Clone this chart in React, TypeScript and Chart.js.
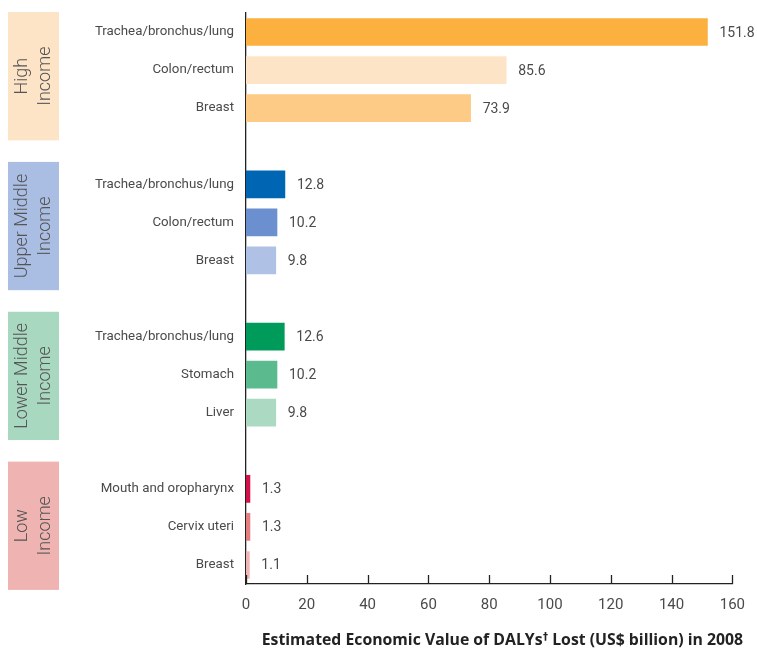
import React, { useEffect, useRef } from "react";
import { Chart, registerables } from "chart.js";
Chart.register(...registerables);

const categories = [
  "Trachea/bronchus/lung", "Colon/rectum", "Breast", "",
  "Trachea/bronchus/lung", "Colon/rectum", "Breast", "",
  "Trachea/bronchus/lung", "Stomach", "Liver", "",
  "Mouth and oropharynx", "Cervix uteri", "Breast",
];
const values: (number | null)[] = [
  151.8, 85.6, 73.9, null,
  12.8, 10.2, 9.8, null,
  12.6, 10.2, 9.8, null,
  1.3, 1.3, 1.1,
];
const valueLabels = [
  "151.8", "85.6", "73.9", "",
  "12.8", "10.2", "9.8", "",
  "12.6", "10.2", "9.8", "",
  "1.3", "1.3", "1.1",
];
const barColors = [
  "#fbb040", "#fde4c6", "#fdcb85", "#ffffff",
  "#0066b3", "#6b8fcf", "#afc2e6", "#ffffff",
  "#009b5a", "#5cbb8e", "#acd9c2", "#ffffff",
  "#d1134a", "#e57f7f", "#f0b4b2",
];
const groupLines = [
  ["High", "Income"],
  ["Upper Middle", "Income"],
  ["Lower Middle", "Income"],
  ["Low", "Income"],
];
const groupMiddleIndex = [1, 5, 9, 13];
const groupColors = ["#fde4c6", "#aabee4", "#a9d8c1", "#efb4b1"];
const xTickValues = [0, 20, 40, 60, 80, 100, 120, 140, 160];
const xTitleParts = ["Estimated Economic Value of DALYs", "\u2020", " Lost (US$ billion) in 2008"];

const FONT = "Roboto, 'Open Sans', sans-serif";
const TITLE_FONT = "'Open Sans', sans-serif";
const TEXT = "#4a4a4a";

export default function App() {
  const ref = useRef<HTMLCanvasElement | null>(null);
  useEffect(() => {
    if (!ref.current) return;
    const decor = {
      id: "decor",
      afterDraw(chart: any) {
        const ctx = chart.ctx;
        const x = chart.scales.x;
        const y = chart.scales.y;
        const area = chart.chartArea;
        ctx.save();
        // inward tick marks on x axis
        ctx.strokeStyle = "#222";
        ctx.lineWidth = 1.3;
        xTickValues.forEach((v) => {
          const px = Math.round(x.getPixelForValue(v)) + 0.5;
          ctx.beginPath();
          ctx.moveTo(px, area.bottom);
          ctx.lineTo(px, area.bottom - 9);
          ctx.stroke();
        });
        // value labels
        ctx.fillStyle = TEXT;
        ctx.font = `14px ${FONT}`;
        ctx.textAlign = "left";
        ctx.textBaseline = "middle";
        values.forEach((v, i) => {
          if (v == null) return;
          const px = x.getPixelForValue(v);
          const py = y.getPixelForValue(i);
          ctx.fillText(valueLabels[i], px + 12, py + 1);
        });
        // x axis title with superscript dagger
        const mainFont = `bold 15.8px ${TITLE_FONT}`;
        const supFont = `bold 10px 'DejaVu Sans', sans-serif`;
        ctx.fillStyle = "#222";
        ctx.textBaseline = "alphabetic";
        ctx.font = mainFont;
        const w0 = ctx.measureText(xTitleParts[0]).width;
        const w2 = ctx.measureText(xTitleParts[2]).width;
        ctx.font = supFont;
        const w1 = ctx.measureText(xTitleParts[1]).width;
        const total = w0 + w1 + w2;
        let tx = (area.left + area.right) / 2 + 13 - total / 2;
        const base = 645;
        ctx.font = mainFont;
        ctx.fillText(xTitleParts[0], tx, base);
        tx += w0 + 0.5;
        ctx.font = supFont;
        ctx.fillText(xTitleParts[1], tx, base - 5);
        tx += w1;
        ctx.font = mainFont;
        ctx.fillText(xTitleParts[2], tx, base);
        // group boxes (evenly spaced beside the groups)
        const slot = Math.abs(y.getPixelForValue(1) - y.getPixelForValue(0));
        const first = y.getPixelForValue(groupMiddleIndex[0]) + slot * 0.16;
        const last = y.getPixelForValue(groupMiddleIndex[groupMiddleIndex.length - 1]) - slot * 0.03;
        const step = (last - first) / (groupLines.length - 1);
        groupLines.forEach((lines, g) => {
          const cy = first + step * g;
          const h = slot * 3.37;
          const left = 8, w = 51;
          ctx.fillStyle = groupColors[g];
          ctx.fillRect(left, cy - h / 2, w, h);
          ctx.save();
          ctx.translate(left + w / 2, cy);
          ctx.rotate(-Math.PI / 2);
          ctx.fillStyle = "#555";
          ctx.font = `300 18px ${FONT}`;
          ctx.textAlign = "center";
          ctx.textBaseline = "middle";
          const lh = 23;
          lines.forEach((t, k) => {
            ctx.fillText(t, 0, (k - (lines.length - 1) / 2) * lh);
          });
          ctx.restore();
        });
        ctx.restore();
      },
    };
    const chart = new Chart(ref.current, {
      type: "bar",
      data: {
        labels: categories,
        datasets: [
          {
            data: values as any,
            backgroundColor: barColors,
            borderWidth: 0,
            barThickness: 27,
          },
        ],
      },
      options: {
        indexAxis: "y",
        animation: false,
        responsive: false,
        maintainAspectRatio: false,
        layout: { padding: { top: 13, right: 24, left: 0, bottom: 0 } },
        plugins: { legend: { display: false }, tooltip: { enabled: false } },
        scales: {
          x: {
            type: "linear",
            min: 0,
            max: 160,
            ticks: {
              stepSize: 20,
              color: TEXT,
              font: { family: FONT, size: 15 },
              padding: 12,
            },
            grid: { display: false, drawTicks: false },
            border: { display: true, color: "#222", width: 1.3 },
            afterFit(scale: any) {
              scale.height = 64;
              scale.paddingTop = 0;
            },
          },
          y: {
            ticks: {
              color: TEXT,
              font: { family: FONT, size: 13.3 },
              padding: 12,
              autoSkip: false,
            },
            grid: { display: false, drawTicks: false },
            border: { display: true, color: "#222", width: 1.3 },
            afterFit(scale: any) {
              scale.width = 246;
              scale.paddingTop = 0;
              scale.paddingBottom = 0;
            },
          },
        },
      },
      plugins: [decor],
    });
    return () => chart.destroy();
  }, []);
  return (
    <div style={{ position: "absolute", left: 0, top: 0, width: 757, height: 648, background: "#fff" }}>
      <canvas ref={ref} width={757} height={648} style={{ width: 757, height: 648, display: "block" }} />
    </div>
  );
}
